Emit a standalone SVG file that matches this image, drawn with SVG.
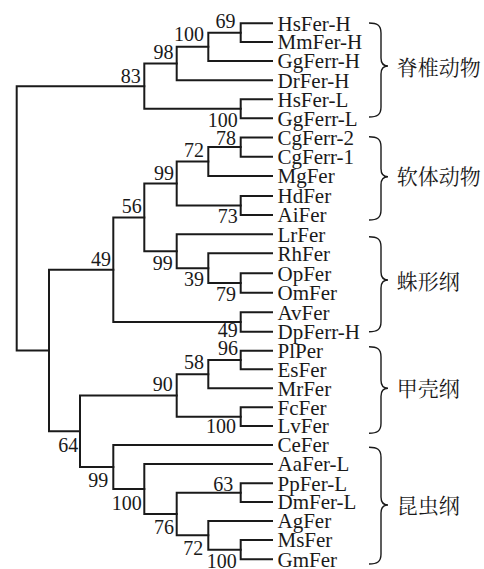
<svg xmlns="http://www.w3.org/2000/svg" width="484" height="569" viewBox="0 0 484 569">
<style>
.t{fill:none;stroke:#1a1a1a;stroke-width:2;stroke-linecap:square;stroke-linejoin:miter}
.b{fill:none;stroke:#1a1a1a;stroke-width:1.4}
.leaf{font-family:"Liberation Serif","Times New Roman",serif;font-size:21px;fill:#1a1a1a}
.bs{font-family:"Liberation Serif","Times New Roman",serif;font-size:20px;fill:#1a1a1a;text-anchor:end}
.cl{font-family:"Noto Serif CJK SC","Noto Sans CJK SC",serif;font-size:21px;fill:#1a1a1a}
</style>
<rect width="484" height="569" fill="#fff"/>
<g id="connectors">
<path class="t" d="M144.3,86.2 H16.7 V350.4 H49"/>
<path class="t" d="M176.7,63.6 H144.3 V108.8 H240.7"/>
<path class="t" d="M208.3,46.8 H176.7 V80.3 H272"/>
<path class="t" d="M240.7,32.7 H208.3 V61 H272"/>
<path class="t" d="M272,23.3 H240.7 V42 H272"/>
<path class="t" d="M272,99.3 H240.7 V118.3 H272"/>
<path class="t" d="M113.3,269.7 H49 V431.2 H80"/>
<path class="t" d="M144.3,217.4 H113.3 V322 H240.7"/>
<path class="t" d="M176.7,183.5 H144.3 V251.2 H176.7"/>
<path class="t" d="M208.3,161.6 H176.7 V205.5 H240.7"/>
<path class="t" d="M240.7,147.1 H208.3 V176 H272"/>
<path class="t" d="M272,137.5 H240.7 V156.7 H272"/>
<path class="t" d="M272,196 H240.7 V215 H272"/>
<path class="t" d="M272,234.3 H176.7 V268.2 H208.3"/>
<path class="t" d="M272,253.3 H208.3 V283 H240.7"/>
<path class="t" d="M272,273.3 H240.7 V292.7 H272"/>
<path class="t" d="M272,312.3 H240.7 V331.7 H272"/>
<path class="t" d="M176.7,395.4 H80 V467 H113.3"/>
<path class="t" d="M208.3,374.2 H176.7 V416.7 H240.7"/>
<path class="t" d="M240.7,360 H208.3 V388.3 H272"/>
<path class="t" d="M272,350.7 H240.7 V369.3 H272"/>
<path class="t" d="M272,407.3 H240.7 V426 H272"/>
<path class="t" d="M272,445 H113.3 V489 H144.3"/>
<path class="t" d="M272,464 H144.3 V514 H176.7"/>
<path class="t" d="M240.7,492.7 H176.7 V535.3 H208.3"/>
<path class="t" d="M272,483.3 H240.7 V502 H272"/>
<path class="t" d="M272,521 H208.3 V549.7 H240.7"/>
<path class="t" d="M272,540 H240.7 V559.3 H272"/>
</g>
<g id="support">
<text class="bs" x="235.5" y="28">69</text>
<text class="bs" x="204" y="40.7">100</text>
<text class="bs" x="173.5" y="58.5">98</text>
<text class="bs" x="140.7" y="82.7">83</text>
<text class="bs" x="237.7" y="127">100</text>
<text class="bs" x="236" y="145">78</text>
<text class="bs" x="204" y="157.3">72</text>
<text class="bs" x="174" y="180">99</text>
<text class="bs" x="237.7" y="223">73</text>
<text class="bs" x="141.7" y="213.3">56</text>
<text class="bs" x="111" y="266">49</text>
<text class="bs" x="172.7" y="270">99</text>
<text class="bs" x="204" y="286">39</text>
<text class="bs" x="236" y="300.7">79</text>
<text class="bs" x="237.7" y="336.7">49</text>
<text class="bs" x="238" y="355">96</text>
<text class="bs" x="204" y="369">58</text>
<text class="bs" x="172.7" y="390.7">90</text>
<text class="bs" x="236" y="433.3">100</text>
<text class="bs" x="78.3" y="451.7">64</text>
<text class="bs" x="108.3" y="487">99</text>
<text class="bs" x="141.7" y="510">100</text>
<text class="bs" x="233.3" y="490.7">63</text>
<text class="bs" x="174" y="534">76</text>
<text class="bs" x="203.3" y="555">72</text>
<text class="bs" x="236.7" y="568">100</text>
</g>
<g id="leaf-HsFer-H"><text class="leaf" x="277.5" y="30.6">HsFer-H</text></g>
<g id="leaf-MmFer-H"><text class="leaf" x="277.5" y="49.3">MmFer-H</text></g>
<g id="leaf-GgFerr-H"><text class="leaf" x="277.5" y="68.3">GgFerr-H</text></g>
<g id="leaf-DrFer-H"><text class="leaf" x="277.5" y="87.6">DrFer-H</text></g>
<g id="leaf-HsFer-L"><text class="leaf" x="277.5" y="106.6">HsFer-L</text></g>
<g id="leaf-GgFerr-L"><text class="leaf" x="277.5" y="125.6">GgFerr-L</text></g>
<g id="leaf-CgFerr-2"><text class="leaf" x="277.5" y="144.8">CgFerr-2</text></g>
<g id="leaf-CgFerr-1"><text class="leaf" x="277.5" y="164">CgFerr-1</text></g>
<g id="leaf-MgFer"><text class="leaf" x="277.5" y="183.3">MgFer</text></g>
<g id="leaf-HdFer"><text class="leaf" x="277.5" y="203.3">HdFer</text></g>
<g id="leaf-AiFer"><text class="leaf" x="277.5" y="222.3">AiFer</text></g>
<g id="leaf-LrFer"><text class="leaf" x="277.5" y="241.6">LrFer</text></g>
<g id="leaf-RhFer"><text class="leaf" x="277.5" y="260.6">RhFer</text></g>
<g id="leaf-OpFer"><text class="leaf" x="277.5" y="280.6">OpFer</text></g>
<g id="leaf-OmFer"><text class="leaf" x="277.5" y="300">OmFer</text></g>
<g id="leaf-AvFer"><text class="leaf" x="277.5" y="319.6">AvFer</text></g>
<g id="leaf-DpFerr-H"><text class="leaf" x="277.5" y="339">DpFerr-H</text></g>
<g id="leaf-PlPer"><text class="leaf" x="277.5" y="358">PlPer</text></g>
<g id="leaf-EsFer"><text class="leaf" x="277.5" y="376.6">EsFer</text></g>
<g id="leaf-MrFer"><text class="leaf" x="277.5" y="395.6">MrFer</text></g>
<g id="leaf-FcFer"><text class="leaf" x="277.5" y="414.6">FcFer</text></g>
<g id="leaf-LvFer"><text class="leaf" x="277.5" y="433.3">LvFer</text></g>
<g id="leaf-CeFer"><text class="leaf" x="277.5" y="452.3">CeFer</text></g>
<g id="leaf-AaFer-L"><text class="leaf" x="277.5" y="471.3">AaFer-L</text></g>
<g id="leaf-PpFer-L"><text class="leaf" x="277.5" y="490.6">PpFer-L</text></g>
<g id="leaf-DmFer-L"><text class="leaf" x="277.5" y="509.3">DmFer-L</text></g>
<g id="leaf-AgFer"><text class="leaf" x="277.5" y="528.3">AgFer</text></g>
<g id="leaf-MsFer"><text class="leaf" x="277.5" y="547.3">MsFer</text></g>
<g id="leaf-GmFer"><text class="leaf" x="277.5" y="566.6">GmFer</text></g>
<g id="clade-vertebrata">
<path class="b" d="M369,23 C377,23 381,25 381,33 V58 C381,63 383,66 388,66 C383,66 381,69 381,74 V107 C381,115 377,117 369,117"/>
<text class="cl" x="396.7" y="74.5">脊椎动物</text>
</g>
<g id="clade-mollusca">
<path class="b" d="M369,136.7 C377,136.7 381,138.7 381,146.7 V168.7 C381,173.7 383,176.7 388,176.7 C383,176.7 381,179.7 381,184.7 V210 C381,218 377,220 369,220"/>
<text class="cl" x="396.7" y="184">软体动物</text>
</g>
<g id="clade-arachnida">
<path class="b" d="M369,236.7 C377,236.7 381,238.7 381,246.7 V272 C381,277 383,280 388,280 C383,280 381,283 381,288 V321.7 C381,329.7 377,331.7 369,331.7"/>
<text class="cl" x="396.7" y="288.5">蛛形纲</text>
</g>
<g id="clade-crustacea">
<path class="b" d="M369,346.7 C377,346.7 381,348.7 381,356.7 V380.3 C381,385.3 383,388.3 388,388.3 C383,388.3 381,391.3 381,396.3 V423.3 C381,431.3 377,433.3 369,433.3"/>
<text class="cl" x="396.7" y="396">甲壳纲</text>
</g>
<g id="clade-insecta">
<path class="b" d="M369,447.3 C377,447.3 381,449.3 381,457.3 V497 C381,502 383,505 388,505 C383,505 381,508 381,513 V554 C381,562 377,564 369,564"/>
<text class="cl" x="396.7" y="513">昆虫纲</text>
</g>
</svg>
